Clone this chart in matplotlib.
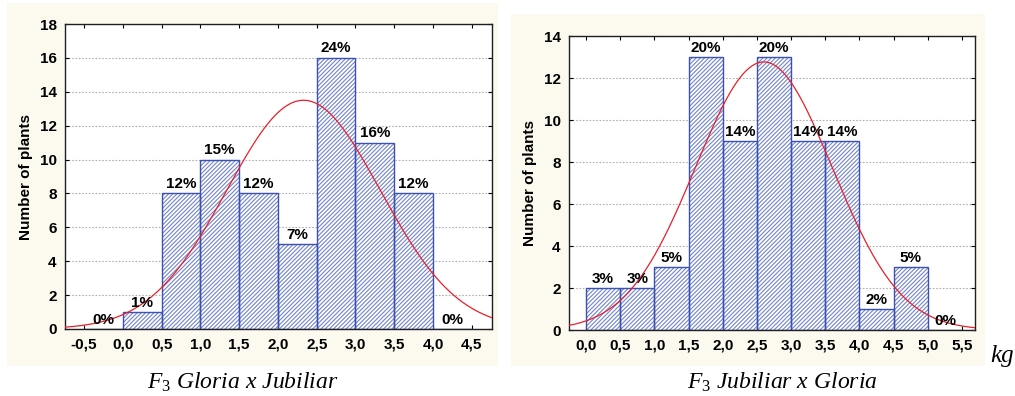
import numpy as np
import matplotlib
matplotlib.use("Agg")
import matplotlib.pyplot as plt
from matplotlib.patches import Rectangle

plt.rcParams['font.family'] = ['Liberation Sans', 'DejaVu Sans']
plt.rcParams['hatch.linewidth'] = 0.8
plt.rcParams['mathtext.fontset'] = 'custom'
plt.rcParams['mathtext.rm'] = 'Liberation Serif'
plt.rcParams['mathtext.it'] = 'Liberation Serif:italic'

# Left panel: F3 Gloria x Jubiliar
left_bins = [-0.5, 0.0, 0.5, 1.0, 1.5, 2.0, 2.5, 3.0, 3.5, 4.0]
left_counts = [0, 1, 8, 10, 8, 5, 16, 11, 8, 0]
left_pct = ['0%', '1%', '12%', '15%', '12%', '7%', '24%', '16%', '12%', '0%']
left_ticks = [-0.5, 0.0, 0.5, 1.0, 1.5, 2.0, 2.5, 3.0, 3.5, 4.0, 4.5]
left_ticklabels = ['-0,5', '0,0', '0,5', '1,0', '1,5', '2,0', '2,5', '3,0', '3,5', '4,0', '4,5']
left_mu, left_sd = 2.33, 0.99

# Right panel: F3 Jubiliar x Gloria
right_bins = [0.0, 0.5, 1.0, 1.5, 2.0, 2.5, 3.0, 3.5, 4.0, 4.5, 5.0]
right_counts = [2, 2, 3, 13, 9, 13, 9, 9, 1, 3, 0]
right_pct = ['3%', '3%', '5%', '20%', '14%', '20%', '14%', '14%', '2%', '5%', '0%']
right_ticks = [0.0, 0.5, 1.0, 1.5, 2.0, 2.5, 3.0, 3.5, 4.0, 4.5, 5.0, 5.5]
right_ticklabels = ['0,0', '0,5', '1,0', '1,5', '2,0', '2,5', '3,0', '3,5', '4,0', '4,5', '5,0', '5,5']
right_mu, right_sd = 2.6, 1.0

bin_width = 0.5
bar_color = '#3A50B2'
hatch_color = '#7384CC'
cream = '#FCF9EF'


def draw_panel(ax, bins, counts, pct, ticks, ticklabels, mu, sd, xlim, ylim, yticks):
    # hatch fill (lighter blue) and a separate darker outline
    ax.bar(bins, counts, width=bin_width, align='edge', facecolor='white',
           edgecolor=hatch_color, hatch='////////', linewidth=0, zorder=2)
    ax.bar(bins, counts, width=bin_width, align='edge', facecolor='none',
           edgecolor=bar_color, linewidth=1.0, zorder=2.2)
    for x, c, p in zip(bins, counts, pct):
        ax.text(x + bin_width / 2, c + ylim[1] * 0.008, p, ha='center', va='bottom',
                fontsize=11, fontweight='bold', zorder=4)
    # fitted normal curve
    n = sum(counts)
    xs = np.linspace(xlim[0], xlim[1], 300)
    ys = n * bin_width * np.exp(-0.5 * ((xs - mu) / sd) ** 2) / (sd * np.sqrt(2 * np.pi))
    ax.plot(xs, ys, color='#E8202A', linewidth=0.9, zorder=3)

    ax.set_xlim(*xlim)
    ax.set_ylim(*ylim)
    ax.set_xticks(ticks)
    ax.set_xticklabels(ticklabels)
    ax.set_yticks(yticks)
    ax.yaxis.grid(True, linestyle=(0, (1.5, 1.5)), color='#B0B0B0', linewidth=0.8, zorder=0)
    ax.set_axisbelow(True)
    ax.tick_params(direction='in', length=3, top=True, right=True, labelsize=11, pad=6)
    for lab in ax.get_xticklabels() + ax.get_yticklabels():
        lab.set_fontweight('bold')
    ax.set_ylabel('Number of plants', fontsize=11, fontweight='bold', labelpad=5)
    for s in ax.spines.values():
        s.set_linewidth(1.0)
        s.set_color('#202020')


fig = plt.figure(figsize=(10.15, 3.96), dpi=100)
fig.patch.set_facecolor('white')

# cream panel backgrounds
fig.add_artist(Rectangle((7 / 1015, 30 / 396), 491 / 1015, 363 / 396,
                         transform=fig.transFigure, facecolor=cream, edgecolor='none', zorder=0))
fig.add_artist(Rectangle((511 / 1015, 30 / 396), 474 / 1015, 352 / 396,
                         transform=fig.transFigure, facecolor=cream, edgecolor='none', zorder=0))

ax1 = fig.add_axes([65 / 1015, 67 / 396, 427 / 1015, 305 / 396])
ax2 = fig.add_axes([569 / 1015, 66 / 396, 406 / 1015, 294 / 396])

draw_panel(ax1, left_bins, left_counts, left_pct, left_ticks, left_ticklabels,
           left_mu, left_sd, (-0.745, 4.76), (0, 18), range(0, 19, 2))
draw_panel(ax2, right_bins, right_counts, right_pct, right_ticks, right_ticklabels,
           right_mu, right_sd, (-0.25, 5.69), (0, 14), range(0, 15, 2))

fig.text(243 / 1015, 1 - 382 / 396, r'$F_3$ Gloria x Jubiliar', ha='center', va='center',
         fontsize=17, style='italic', family='Liberation Serif')
fig.text(782 / 1015, 1 - 382 / 396, r'$F_3$ Jubiliar x Gloria', ha='center', va='center',
         fontsize=17, style='italic', family='Liberation Serif')
fig.text(1002 / 1015, 1 - 356 / 396, 'kg', ha='center', va='center',
         fontsize=18, style='italic', family='Liberation Serif')

fig.savefig('out.png', dpi=100, facecolor='white')
